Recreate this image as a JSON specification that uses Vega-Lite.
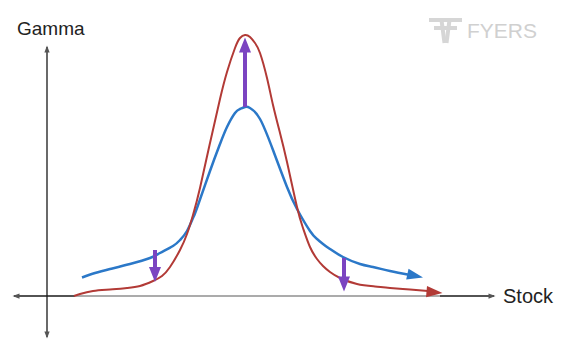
{
  "$schema": "https://vega.github.io/schema/vega-lite/v6.json",
  "width": 568,
  "height": 352,
  "autosize": {"type": "fit", "contains": "padding"},
  "padding": 0,
  "background": "white",
  "config": {"view": {"stroke": null}},
  "resolve": {"scale": {"shape": "independent"}},
  "datasets": {
    "blue": [
      {"x": 82, "y": 18.5}, {"x": 95, "y": 23}, {"x": 110, "y": 27}, {"x": 130, "y": 32},
      {"x": 150, "y": 38}, {"x": 160, "y": 43}, {"x": 173, "y": 50}, {"x": 180, "y": 56},
      {"x": 187, "y": 65}, {"x": 193, "y": 78}, {"x": 197, "y": 88}, {"x": 210, "y": 125},
      {"x": 220, "y": 152}, {"x": 227, "y": 169}, {"x": 235, "y": 183}, {"x": 240, "y": 187},
      {"x": 245, "y": 189}, {"x": 250, "y": 188}, {"x": 260, "y": 177}, {"x": 273, "y": 146},
      {"x": 287, "y": 109}, {"x": 297, "y": 87}, {"x": 310, "y": 65}, {"x": 317, "y": 57},
      {"x": 323, "y": 52}, {"x": 330, "y": 47}, {"x": 343, "y": 39}, {"x": 360, "y": 32},
      {"x": 373, "y": 29}, {"x": 390, "y": 25}, {"x": 410, "y": 21}
    ],
    "red": [
      {"x": 74, "y": 0}, {"x": 80, "y": 2}, {"x": 93, "y": 5}, {"x": 110, "y": 6.5},
      {"x": 127, "y": 8}, {"x": 140, "y": 10}, {"x": 153, "y": 15}, {"x": 162, "y": 20},
      {"x": 170, "y": 29}, {"x": 180, "y": 46}, {"x": 187, "y": 62}, {"x": 193, "y": 81},
      {"x": 200, "y": 108}, {"x": 210, "y": 153}, {"x": 220, "y": 197}, {"x": 227, "y": 224},
      {"x": 235, "y": 248}, {"x": 240, "y": 258}, {"x": 245, "y": 261}, {"x": 250, "y": 259},
      {"x": 255, "y": 253}, {"x": 260, "y": 243}, {"x": 267, "y": 218}, {"x": 273, "y": 191},
      {"x": 280, "y": 163}, {"x": 287, "y": 134}, {"x": 297, "y": 89}, {"x": 303, "y": 68},
      {"x": 310, "y": 49}, {"x": 317, "y": 37}, {"x": 323, "y": 30}, {"x": 330, "y": 24},
      {"x": 340, "y": 18}, {"x": 357, "y": 12}, {"x": 375, "y": 9.5}, {"x": 390, "y": 8},
      {"x": 410, "y": 6.5}, {"x": 428, "y": 5}
    ],
    "axisLines": [
      {"x": 47, "x2": 47, "y": -41, "y2": 249},
      {"x": 14, "x2": 494, "y": 0, "y2": 0}
    ],
    "axisEnds": [
      {"x": 16, "y": 0, "end": "left"},
      {"x": 492, "y": 0, "end": "right"},
      {"x": 47, "y": 247, "end": "top"},
      {"x": 47, "y": -39, "end": "bottom"}
    ],
    "baseline": [{"x": 75, "x2": 440, "y": 0, "y2": 0}],
    "shafts": [
      {"x": 155, "y": 46, "y2": 27},
      {"x": 245, "y": 189, "y2": 245},
      {"x": 344, "y": 38, "y2": 17}
    ],
    "heads": [
      {"x": 155, "y": 21.5, "dir": "down"},
      {"x": 245, "y": 251, "dir": "up"},
      {"x": 344, "y": 12, "dir": "down"}
    ],
    "logo": [
      {"x": 429, "x2": 462, "y": 276, "y2": 276},
      {"x": 434, "x2": 457, "y": 268, "y2": 268},
      {"x": 441.5, "x2": 444.5, "y": 276, "y2": 253},
      {"x": 449.5, "x2": 446.5, "y": 276, "y2": 253}
    ]
  },
  "encoding": {
    "x": {"field": "x", "type": "quantitative", "scale": {"domain": [0, 568], "nice": false, "zero": false}, "axis": null},
    "y": {"field": "y", "type": "quantitative", "scale": {"domain": [-56, 296], "nice": false, "zero": false}, "axis": null}
  },
  "layer": [
    {
      "data": {"name": "axisLines"},
      "mark": {"type": "rule", "color": "#1a1a1a", "strokeWidth": 1.3},
      "encoding": {"x2": {"field": "x2"}, "y2": {"field": "y2"}}
    },
    {
      "data": {"name": "baseline"},
      "mark": {"type": "rule", "color": "#c8c8c8", "strokeWidth": 1.6},
      "encoding": {"x2": {"field": "x2"}, "y2": {"field": "y2"}}
    },
    {
      "data": {"name": "axisEnds"},
      "mark": {"type": "point", "filled": true, "size": 49, "color": "#555555", "opacity": 1},
      "encoding": {
        "shape": {"field": "end", "type": "nominal", "legend": null,
          "scale": {"domain": ["left", "right", "top", "bottom"],
            "range": ["M-1,0L1,-0.75L1,0.75Z", "M1,0L-1,-0.75L-1,0.75Z", "M0,-1L0.75,1L-0.75,1Z", "M0,1L0.75,-1L-0.75,-1Z"]}}
      }
    },
    {
      "data": {"name": "logo"},
      "mark": {"type": "rule", "color": "#d6d6d6", "strokeWidth": 4},
      "encoding": {"x2": {"field": "x2"}, "y2": {"field": "y2"}}
    },
    {
      "data": {"values": [{"x": 467, "y": 257.7, "label": "FYERS"}]},
      "mark": {"type": "text", "align": "left", "baseline": "alphabetic", "font": "Liberation Sans", "fontSize": 21, "color": "#d0d0d0"},
      "encoding": {"text": {"field": "label"}}
    },
    {
      "data": {"name": "blue"},
      "mark": {"type": "line", "color": "#2b78c8", "strokeWidth": 2.5, "interpolate": "natural"}
    },
    {
      "data": {"values": [{"x": 415.2, "y": 20.2}]},
      "mark": {"type": "point", "filled": true, "opacity": 1, "size": 256, "color": "#2b78c8", "angle": 12, "shape": "M1,0L-1,-0.7L-1,0.7Z"}
    },
    {
      "data": {"name": "red"},
      "mark": {"type": "line", "color": "#b23a36", "strokeWidth": 2, "interpolate": "natural"}
    },
    {
      "data": {"values": [{"x": 434.5, "y": 3.7}]},
      "mark": {"type": "point", "filled": true, "opacity": 1, "size": 256, "color": "#b23a36", "angle": 5, "shape": "M1,0L-1,-0.7L-1,0.7Z"}
    },
    {
      "data": {"name": "shafts"},
      "mark": {"type": "rule", "color": "#7b44c1", "strokeWidth": 4},
      "encoding": {"y2": {"field": "y2"}}
    },
    {
      "data": {"name": "heads"},
      "mark": {"type": "point", "filled": true, "opacity": 1, "size": 225, "color": "#7b44c1"},
      "encoding": {
        "shape": {"field": "dir", "type": "nominal", "legend": null,
          "scale": {"domain": ["up", "down"], "range": ["M0,-1L0.8,1L-0.8,1Z", "M0,1L0.8,-1L-0.8,-1Z"]}}
      }
    },
    {
      "data": {"values": [{"x": 17, "y": 261, "label": "Gamma"}]},
      "mark": {"type": "text", "align": "left", "baseline": "alphabetic", "font": "Liberation Sans", "fontSize": 19, "color": "#222222"},
      "encoding": {"text": {"field": "label"}}
    },
    {
      "data": {"values": [{"x": 503, "y": -7, "label": "Stock"}]},
      "mark": {"type": "text", "align": "left", "baseline": "alphabetic", "font": "Liberation Sans", "fontSize": 20, "color": "#222222"},
      "encoding": {"text": {"field": "label"}}
    }
  ]
}
